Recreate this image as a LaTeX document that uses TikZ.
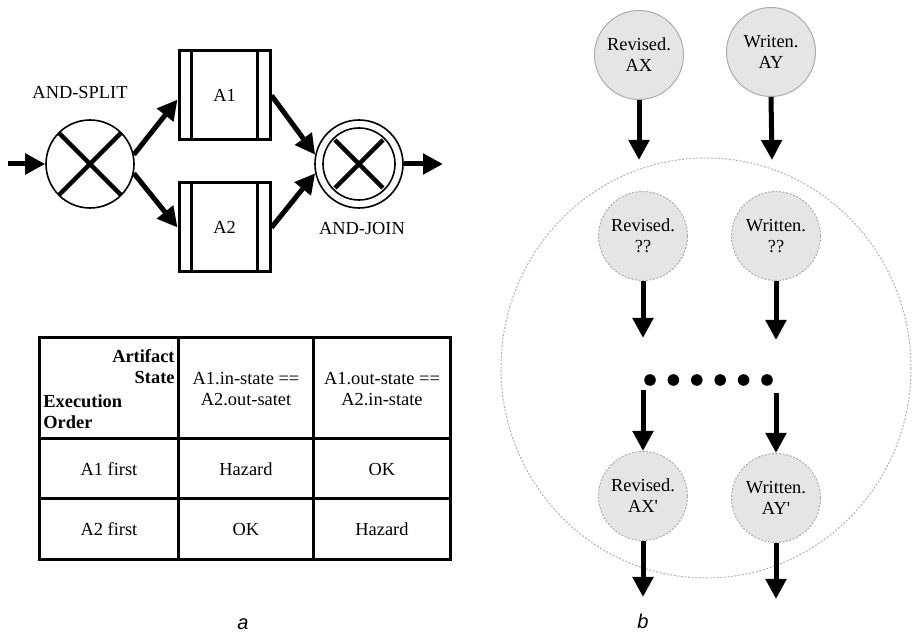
\documentclass[tikz,border=0pt]{standalone}
\usepackage{fontspec}
\setmainfont{Liberation Serif}
\newfontfamily\capfont{Liberation Sans}
\usetikzlibrary{arrows.meta,calc}

\begin{document}
\begin{tikzpicture}[x=0.5pt,y=-0.5pt,
  font=\fontsize{9.2}{10.6}\selectfont,
  flow/.style={line width=2.5pt,-{Triangle[length=10pt,width=10pt]}},
  gate/.style={circle,draw,line width=0.8pt,minimum size=44pt,inner sep=0pt},
  cross/.style={line width=2.2pt},
  activity/.style={rectangle,draw,line width=1.5pt,minimum width=45.5pt,minimum height=44.5pt},
  grid/.style={line width=1.5pt},
  state/.style={circle,draw=gray!65,fill=gray!20,line width=0.5pt,minimum size=44.5pt,
    inner sep=0pt,align=center},
  pending/.style={state,dash pattern=on 1pt off 0.8pt},
  dotmark/.style={circle,fill,inner sep=0pt,minimum size=5.8pt},
  caption/.style={font=\capfont\itshape\fontsize{10}{12}\selectfont}]
\useasboundingbox (0,0) rectangle (912,636);

% ---------- (a) AND-split / AND-join workflow ----------
\node[gate] (split) at (90,164) {};
\draw[cross] (split.center) ++(-31,-31) -- ++(62,62);
\draw[cross] (split.center) ++(-31,31) -- ++(62,-62);
\node (splitlbl) at (80,93) {AND-SPLIT};

\node[gate] (join) at (359,164) {};
\node[circle,draw,line width=0.8pt,minimum size=36pt,inner sep=0pt] (joinin) at (join.center) {};
\draw[cross] (join.center) ++(-24,-24) -- ++(48,48);
\draw[cross] (join.center) ++(-24,24) -- ++(48,-48);
\node (joinlbl) at (362,229) {AND-JOIN};

\node[activity] (a1) at (224.5,95.5) {A1};
\node[activity] (a2) at (224.5,227.5) {A2};
\foreach \b in {a1,a2}{
  \draw[line width=1.5pt] ([xshift=7pt]\b.north west) -- ([xshift=7pt]\b.south west);
  \draw[line width=1.5pt] ([xshift=-7pt]\b.north east) -- ([xshift=-7pt]\b.south east);
}

\coordinate (in) at (8,164);
\coordinate (out) at (443,164);
\draw[flow] (in) -- (split.west);
\draw[flow] (split.12) -- ([yshift=-2pt]a1.west);
\draw[flow] (split.-12) -- (a2.west);
\draw[flow] (a1.east) -- (join.168);
\draw[flow] (a2.east) -- (join.192);
\draw[flow] (join.east) -- (out);

% ---------- (a) hazard table ----------
\draw[grid] (39,338) rectangle (450,560);
\draw[grid] (178,338) -- (178,560);
\draw[grid] (313,338) -- (313,560);
\draw[grid] (39,439) -- (450,439);
\draw[grid] (39,499) -- (450,499);

\node[anchor=east,align=right,font=\bfseries\fontsize{9.2}{10.6}\selectfont,inner sep=0pt]
  (hstate) at (175,367) {Artifact\\State};
\node[anchor=west,align=left,font=\bfseries\fontsize{9.2}{10.6}\selectfont,inner sep=0pt]
  (horder) at (43,412) {Execution\\Order};
\node[align=center] (h1) at (246,389) {A1.in-state ==\\A2.out-satet};
\node[align=center] (h2) at (382,389) {A1.out-state ==\\A2.in-state};
\node (r1) at (109,469) {A1 first};
\node (r1a) at (246,469) {Hazard};
\node (r1b) at (382,469) {OK};
\node (r2) at (109,529) {A2 first};
\node (r2a) at (246,529) {OK};
\node (r2b) at (382,529) {Hazard};

\node[caption] (capa) at (243,624) {a};

% ---------- (b) state propagation ----------
\draw[gray!60,line width=0.5pt,dash pattern=on 1pt off 0.8pt] (706,368) ellipse [x radius=205,y radius=210];

\node[state] (rax) at (639,55) {Revised.\\AX};
\node[state] (way) at (771,52) {Writen.\\AY};
\node[pending] (rq) at (643,236) {Revised.\\??};
\node[pending] (wq) at (776,236) {Written.\\??};
\node[pending] (rxp) at (643,496) {Revised.\\AX\textquotesingle};
\node[pending] (wyp) at (776,498) {Written.\\AY\textquotesingle};

\foreach \i [count=\k from 0] in {1,...,6}
  \node[dotmark] (d\i) at (650+23.4*\k,380) {};

\coordinate (raxend) at (639,160);
\coordinate (wayend) at (772,160);
\coordinate (rqend) at (643,338);
\coordinate (wqend) at (776,340);
\coordinate (lstart) at (643,390);
\coordinate (rstart) at (776,393);
\coordinate (rxpend) at (643,597);
\coordinate (wypend) at (776,599);

\draw[flow] (rax.south) -- (raxend);
\draw[flow] (way.south) -- (wayend);
\draw[flow] (rq.south) -- (rqend);
\draw[flow] (wq.south) -- (wqend);
\draw[flow] (lstart) -- (rxp.north);
\draw[flow] (rstart) -- (wyp.north);
\draw[flow] (rxp.south) -- (rxpend);
\draw[flow] (wyp.south) -- (wypend);

\node[caption] (capb) at (643,621) {b};
\end{tikzpicture}
\end{document}
